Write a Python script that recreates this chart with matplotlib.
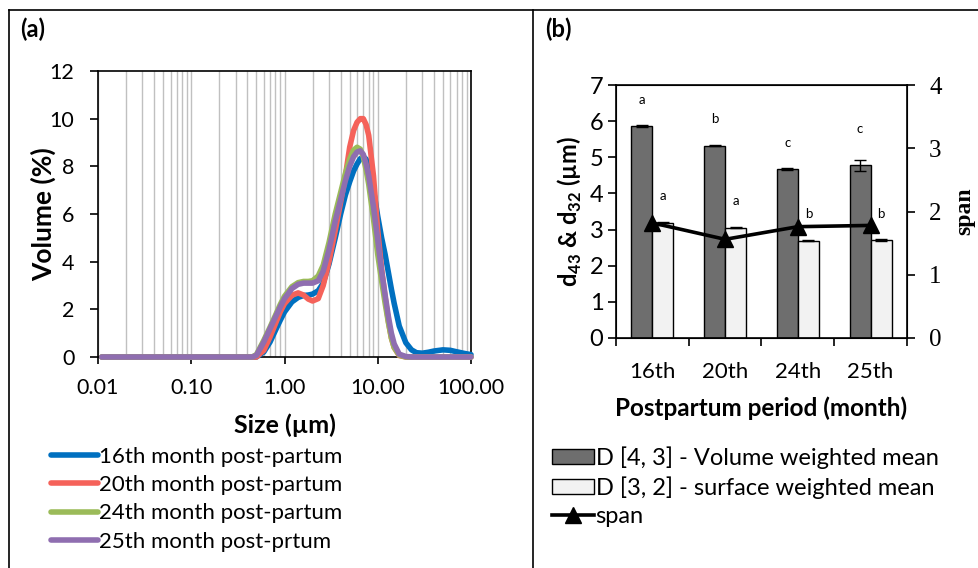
import matplotlib
matplotlib.use("Agg")
import matplotlib.pyplot as plt
import numpy as np
from matplotlib.lines import Line2D
from matplotlib.patches import Patch
from matplotlib.ticker import LogLocator, FixedLocator, FixedFormatter, NullFormatter

# ---- data: panel (a) particle size distribution ----
size_um = [0.011, 0.45, 0.5, 0.6, 0.7, 0.8, 0.9, 1.0, 1.2, 1.4, 1.6, 1.8, 2.0, 2.3, 2.6,
           3.0, 3.5, 4.0, 4.5, 5.0, 5.5, 6.0, 6.5, 7.0, 7.5, 8.0, 9.0, 10, 11, 12, 13,
           14, 15, 17, 20, 23, 26, 30, 35, 40, 50, 60, 70, 85, 100]
vol_16th = [0, 0, 0, 0.21, 0.63, 1.12, 1.54, 1.89, 2.31, 2.5, 2.58, 2.6, 2.64, 2.78, 3.1,
            3.9, 5.0, 6.0, 6.8, 7.35, 7.8, 8.1, 8.32, 8.4, 8.3, 7.95, 7.0, 5.9, 5.0, 4.3, 3.55,
            2.85, 2.25, 1.3, 0.6, 0.3, 0.18, 0.16, 0.2, 0.25, 0.3, 0.28, 0.22, 0.15, 0.1]
vol_20th = [0, 0, 0, 0.28, 0.84, 1.4, 1.89, 2.24, 2.59, 2.69, 2.6, 2.43, 2.35, 2.45, 3.0,
            4.0, 5.3, 6.5, 7.6, 8.8, 9.5, 9.85, 10.0, 10.0, 9.75, 9.3, 7.6, 5.3, 3.7, 2.5, 1.5,
            0.8, 0.4, 0.06, 0, 0, 0, 0, 0, 0, 0, 0, 0, 0, 0]
vol_24th = [0, 0, 0.1, 0.7, 1.25, 1.75, 2.2, 2.55, 2.95, 3.12, 3.17, 3.17, 3.2, 3.4, 3.85,
            4.8, 6.0, 6.9, 7.7, 8.3, 8.68, 8.8, 8.72, 8.4, 7.85, 7.25, 5.8, 4.3, 3.2, 2.25, 1.45,
            0.8, 0.4, 0.08, 0, 0, 0, 0, 0, 0, 0, 0, 0, 0, 0]
vol_25th = [0, 0, 0.07, 0.63, 1.19, 1.68, 2.1, 2.45, 2.87, 3.05, 3.1, 3.1, 3.1, 3.2, 3.6,
            4.5, 5.7, 6.6, 7.4, 8.0, 8.4, 8.6, 8.65, 8.5, 8.1, 7.6, 6.3, 4.9, 3.6, 2.6, 1.7,
            1.0, 0.55, 0.12, 0.02, 0, 0, 0, 0, 0, 0, 0, 0, 0, 0]
psd_labels = ["16th month post-partum", "20th month post-partum",
              "24th month post-partum", "25th month post-prtum"]
size_ticks = [0.01, 0.1, 1, 10, 100]
size_ticklabels = ["0.01", "0.10", "1.00", "10.00", "100.00"]

# ---- data: panel (b) mean diameters and span ----
months = ["16th", "20th", "24th", "25th"]
d43 = [5.87, 5.32, 4.68, 4.78]
d43_err = [0.03, 0.01, 0.03, 0.15]
d32 = [3.17, 3.05, 2.69, 2.71]
d32_err = [0.03, 0.02, 0.01, 0.04]
span = [1.82, 1.56, 1.76, 1.78]
d43_letters = ["a", "b", "c", "c"]
d43_letter_y = [6.58, 6.06, 5.40, 5.78]
d32_letters = ["a", "a", "b", "b"]
d32_letter_y = [3.93, 3.79, 3.43, 3.43]

sans = "Lato"
serif = "Liberation Serif"
plt.rcParams["font.family"] = [sans, "DejaVu Sans"]
plt.rcParams["mathtext.fontset"] = "custom"
plt.rcParams["mathtext.rm"] = sans
plt.rcParams["mathtext.bf"] = sans + ":bold"

W, H = 979, 568
fig = plt.figure(figsize=(W / 100, H / 100), dpi=100)


def fx(px):
    return px / W


def fy(py):
    return 1 - py / H


# frame lines of the composite figure
for xs, ys in [([fx(9), fx(9)], [0, fy(10)]),
               ([fx(533), fx(533)], [0, fy(10)]),
               ([fx(9), 1], [fy(10), fy(10)])]:
    fig.add_artist(Line2D(xs, ys, color="black", lw=1.2, transform=fig.transFigure))

fig.text(fx(20), fy(29), "(a)", fontsize=17, fontweight="bold", va="center")
fig.text(fx(545), fy(29), "(b)", fontsize=17, fontweight="bold", va="center")

# ---------------- panel (a) ----------------
ax1 = fig.add_axes([fx(98), fy(357), fx(471 - 98), (357 - 71) / H])
colors = ["#0070C0", "#F5625A", "#9BBB59", "#8F6EB0"]
for vals, c, lab in zip([vol_16th, vol_20th, vol_24th, vol_25th], colors, psd_labels):
    ax1.plot(size_um, vals, color=c, lw=4.0, label=lab, clip_on=False,
             solid_capstyle="round", solid_joinstyle="round", zorder=3)
ax1.set_xscale("log")
ax1.set_xlim(0.01, 100)
ax1.set_ylim(0, 12)
ax1.set_yticks(range(0, 13, 2))
ax1.xaxis.set_major_locator(FixedLocator(size_ticks))
ax1.xaxis.set_major_formatter(FixedFormatter(size_ticklabels))
ax1.xaxis.set_minor_locator(LogLocator(base=10, subs=np.arange(2, 10)))
ax1.xaxis.set_minor_formatter(NullFormatter())
ax1.grid(True, which="both", axis="x", color="#C0C0C0", lw=1.0)
ax1.set_axisbelow(True)
ax1.tick_params(axis="x", which="major", direction="out", length=5, width=1.2,
                labelsize=15.5, pad=10)
ax1.tick_params(axis="y", which="major", direction="out", length=6, width=1.2,
                labelsize=15.5, pad=11)
ax1.tick_params(axis="x", which="minor", length=0)
for s in ax1.spines.values():
    s.set_linewidth(1.2)
ax1.set_ylabel("Volume (%)", fontsize=19, fontweight="bold", labelpad=-5)
ax1.set_xlabel("Size (µm)", fontsize=18, fontweight="bold", labelpad=11)

ax1.legend(loc="upper left", bbox_to_anchor=(fx(51), fy(447)), bbox_transform=fig.transFigure,
           frameon=False, fontsize=16, handlelength=2.1, handletextpad=0.05,
           labelspacing=0.37, borderpad=0, borderaxespad=0)

# ---------------- panel (b) ----------------
ax2 = fig.add_axes([fx(616), fy(338), fx(907 - 616), (338 - 85) / H])
x = np.arange(len(months))
bw = 0.29
dark = "#6E6E6E"
light = "#F2F2F2"
ax2.bar(x - bw / 2, d43, bw, color=dark, edgecolor="black", lw=1.0,
        yerr=d43_err, capsize=4.5, error_kw=dict(elinewidth=1.0, capthick=1.0),
        label="D [4, 3] - Volume weighted mean", zorder=2)
ax2.bar(x + bw / 2, d32, bw, color=light, edgecolor="black", lw=1.0,
        yerr=d32_err, capsize=4.5, error_kw=dict(elinewidth=1.0, capthick=1.0),
        label="D [3, 2] - surface weighted mean", zorder=2)
for i in range(len(months)):
    ax2.text(x[i] - bw / 2, d43_letter_y[i], d43_letters[i], ha="center", va="center", fontsize=9.5)
    ax2.text(x[i] + bw / 2, d32_letter_y[i], d32_letters[i], ha="center", va="center", fontsize=9.5)

ax2.set_xlim(-0.5, len(months) - 0.5)
ax2.set_ylim(0, 7)
ax2.set_yticks(range(0, 8))
ax2.set_xticks(x)
ax2.set_xticklabels(months)
ax2.set_xticks(np.arange(-0.5, len(months)), minor=True)
ax2.tick_params(axis="x", which="major", length=0, labelsize=16, pad=17)
ax2.tick_params(axis="x", which="minor", direction="out", length=6, width=1.2)
ax2.tick_params(axis="y", which="major", direction="out", length=6, width=1.2,
                labelsize=17, pad=3)
for s in ax2.spines.values():
    s.set_linewidth(1.2)
ax2.set_ylabel("d$_{\\mathbf{43}}$ & d$_{\\mathbf{32}}$ (µm)", fontsize=17,
               fontweight="bold", labelpad=4)
ax2.set_xlabel("Postpartum period (month)", fontsize=17.5, fontweight="bold", labelpad=11)

ax3 = ax2.twinx()
ax3.plot(x, span, color="black", lw=2.6, marker="^", markersize=11, zorder=5)
ax3.set_ylim(0, 4)
ax3.set_yticks(range(0, 5))
ax3.tick_params(axis="y", direction="out", length=6, width=1.2, labelsize=18, pad=10)
for t in ax3.get_yticklabels():
    t.set_fontfamily(serif)
ax3.set_ylabel("span", family=serif, fontsize=17, fontweight="bold", labelpad=9)

handles = [Patch(facecolor=dark, edgecolor="black", lw=1.0),
           Patch(facecolor=light, edgecolor="black", lw=1.0),
           Line2D([], [], color="black", lw=2.6, marker="^", markersize=11)]
labels = ["D [4, 3] - Volume weighted mean", "D [3, 2] - surface weighted mean", "span"]
fig.legend(handles, labels, loc="upper left", bbox_to_anchor=(fx(552), fy(446)),
           frameon=False, fontsize=17, handlelength=1.8, handleheight=0.6,
           handletextpad=0.05, labelspacing=0.32, borderpad=0, borderaxespad=0)

fig.savefig("out.png", dpi=100)
